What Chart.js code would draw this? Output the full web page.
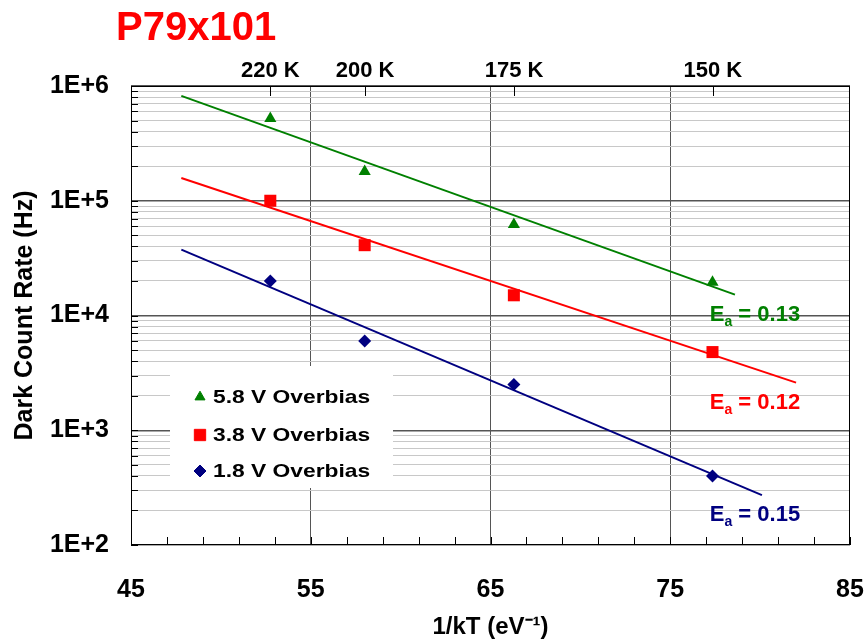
<!DOCTYPE html>
<html>
<head>
<meta charset="utf-8">
<script src="https://cdn.jsdelivr.net/npm/chart.js@4.4.1/dist/chart.umd.min.js"></script>
<style>
  body { margin: 0; background: #fff; }
  #wrap { position: relative; width: 867px; height: 642px; }
  #titulo { position: absolute; left: 116px; top: 4px; margin: 0;
    font: bold 40px "Liberation Sans", Arial, sans-serif; color: #ff0000; }
</style>
</head>
<body>
<div id="wrap">
  <h1 id="titulo">P79x101</h1>
  <canvas id="c" width="867" height="642"></canvas>
</div>
<script>
/* dark count rate vs 1/kT */

const invKT = [52.75, 58.0, 66.3, 77.35];
const dcr58 = [5.2e5, 1.8e5, 6.2e4, 1.95e4];
const dcr38 = [1.0e5, 4.1e4, 1.5e4, 4.8e3];
const dcr18 = [2.0e4, 6.0e3, 2.5e3, 400];

// fitted lines, end points
const fitX58 = [47.8, 78.6], fitY58 = [8.2e5, 1.52e4];
const fitX38 = [47.8, 82.0], fitY38 = [1.58e5, 2.6e3];
const fitX18 = [47.8, 80.1], fitY18 = [3.75e4, 272];

const xTicks = [45, 55, 65, 75, 85];
const tempK = [220, 200, 175, 150];
const kB = 8.617e-5;

const serieNames = ["5.8 V Overbias", "3.8 V Overbias", "1.8 V Overbias"];
const eaText = ["0.13", "0.12", "0.15"];
const eaX = [77.2, 77.2, 77.2];
const eaY = [8.9e3, 1.52e3, 162];

const GREEN = "#008000", RED = "#ff0000", NAVY = "#000080";
const colors = [GREEN, RED, NAVY];
const styles = [["triangle", 7, 5.8], ["rect", 8.5, 8], ["rectRot", 6.5, 6]];

const pts = (xs, ys) => xs.map((x, i) => ({ x, y: ys[i] }));
const isDecade = (v) => {
  const e = Math.round(Math.log10(v));
  return Math.abs(v - Math.pow(10, e)) < 1e-6 * v;
};
const sinPadding = (s) => { s.paddingLeft = 0; s.paddingRight = 0; s.paddingTop = 0; s.paddingBottom = 0; };

Chart.defaults.font.family = '"Liberation Sans", Arial, sans-serif';
Chart.defaults.font.weight = "bold";
Chart.defaults.color = "#000";

const marcoPlugin = {
  id: "marco",
  beforeDatasetsDraw(chart) {
    const { ctx, chartArea: a } = chart;
    // legend box
    const lx = a.left + 39, ly = 366;
    ctx.save();
    ctx.fillStyle = "#fff";
    ctx.fillRect(lx, ly, 223, 122);
    const rows = [397, 435, 471];
    serieNames.forEach((name, i) => {
      ctx.fillStyle = colors[i];
      ctx.strokeStyle = colors[i];
      Chart.helpers.drawPoint(ctx, { pointStyle: styles[i][0], radius: styles[i][2], rotation: 0, borderWidth: 1 }, lx + 30, rows[i]);
      ctx.fillStyle = "#000";
      ctx.font = 'bold 19px "Liberation Sans", Arial, sans-serif';
      ctx.textBaseline = "middle";
      ctx.save();
      ctx.translate(lx + 43, rows[i] + 1);
      ctx.scale(1.2, 1);
      ctx.fillText(name, 0, 0);
      ctx.restore();
    });
    ctx.restore();
  },
  afterDraw(chart) {
    const { ctx, chartArea: a, scales } = chart;
    ctx.save();
    ctx.strokeStyle = "#000";
    ctx.lineWidth = 1;
    ctx.strokeRect(a.left + 0.5, a.top + 0.5, a.right - a.left - 1, a.bottom - a.top - 1);
    ctx.beginPath();
    // inward ticks on the left
    scales.y.ticks.forEach((t) => {
      const y = Math.round(scales.y.getPixelForValue(t.value)) + 0.5;
      ctx.moveTo(a.left, y);
      ctx.lineTo(a.left + 7, y);
    });
    // inward minor ticks on the bottom, every 2
    for (let v = 45; v <= 85; v += 2) {
      const x = Math.round(scales.x.getPixelForValue(v)) + 0.5;
      ctx.moveTo(x, a.bottom);
      ctx.lineTo(x, a.bottom - 8);
    }
    // temperature ticks on the top
    scales.x2.ticks.forEach((t) => {
      const x = Math.round(scales.x2.getPixelForValue(t.value)) + 0.5;
      ctx.moveTo(x, a.top);
      ctx.lineTo(x, a.top + 10);
    });
    ctx.stroke();

    // activation energy labels
    eaText.forEach((txt, i) => {
      const x = scales.x.getPixelForValue(eaX[i]);
      const y = scales.y.getPixelForValue(eaY[i]);
      ctx.fillStyle = colors[i];
      ctx.textBaseline = "alphabetic";
      ctx.font = 'bold 22px "Liberation Sans", Arial, sans-serif';
      ctx.fillText("E", x, y);
      let w = ctx.measureText("E").width;
      ctx.font = 'bold 14px "Liberation Sans", Arial, sans-serif';
      ctx.fillText("a", x + w, y + 5);
      w += ctx.measureText("a").width;
      ctx.font = 'bold 22px "Liberation Sans", Arial, sans-serif';
      ctx.fillText(" = " + txt, x + w, y);
    });
    ctx.restore();
  },
};

const puntos = [dcr58, dcr38, dcr18].map((ys, i) => ({
  label: serieNames[i],
  data: pts(invKT, ys),
  showLine: false,
  pointStyle: styles[i][0],
  pointRadius: styles[i][1],
  backgroundColor: colors[i],
  borderColor: colors[i],
  borderWidth: 0,
}));

const ajustes = [[fitX58, fitY58], [fitX38, fitY38], [fitX18, fitY18]].map(([xs, ys], i) => ({
  label: "fit " + serieNames[i],
  data: pts(xs, ys),
  showLine: true,
  pointRadius: 0,
  borderColor: colors[i],
  borderWidth: 2,
  fill: false,
}));

new Chart(document.getElementById("c"), {
  type: "scatter",
  data: { datasets: [...ajustes, ...puntos] },
  plugins: [marcoPlugin],
  options: {
    responsive: false,
    animation: false,
    layout: { padding: { left: 0, right: 17, top: 0, bottom: 0 } },
    plugins: { legend: { display: false }, tooltip: { enabled: false } },
    scales: {
      x: {
        type: "linear",
        position: "bottom",
        min: 45,
        max: 85,
        afterBuildTicks: (s) => { s.ticks = xTicks.map((v) => ({ value: v })); },
        afterFit: (s) => { s.height = 97; sinPadding(s); },
        grid: {
          drawTicks: false,
          color: (c) => (c.tick && (c.tick.value === 45 || c.tick.value === 85) ? "rgba(0,0,0,0)" : "#555"),
        },
        border: { display: false },
        ticks: { font: { size: 25 }, padding: 30, maxRotation: 0 },
        title: { display: true, text: "1/kT (eV⁻¹)", font: { size: 24 }, padding: { top: 0, bottom: 0 } },
      },
      x2: {
        type: "linear",
        position: "top",
        min: 45,
        max: 85,
        afterBuildTicks: (s) => { s.ticks = tempK.map((T) => ({ value: 1 / (kB * T) })); },
        afterFit: (s) => { s.height = 86; sinPadding(s); },
        grid: { display: false, drawTicks: false },
        border: { display: false },
        ticks: { font: { size: 22 }, padding: 2, maxRotation: 0, callback: (v, i) => tempK[i] + " K" },
      },
      y: {
        type: "logarithmic",
        min: 100,
        max: 1e6,
        afterBuildTicks: (s) => {
          const t = [];
          for (let e = 2; e < 6; e++) for (let m = 1; m < 10; m++) t.push({ value: m * Math.pow(10, e) });
          t.push({ value: 1e6 });
          s.ticks = t;
        },
        afterFit: (s) => { s.width = 131; sinPadding(s); },
        grid: {
          drawTicks: false,
          color: (c) => (c.tick && isDecade(c.tick.value) ? "#555" : "#c8c8c8"),
          lineWidth: (c) => (c.tick && isDecade(c.tick.value) ? 1.5 : 1),
        },
        border: { display: false },
        ticks: {
          font: { size: 25 },
          padding: 22,
          autoSkip: false,
          callback: (v) => (isDecade(v) ? "1E+" + Math.round(Math.log10(v)) : ""),
        },
        title: { display: true, text: "Dark Count Rate (Hz)", font: { size: 25 }, padding: { top: 10, bottom: 0 } },
      },
    },
  },
});
</script>
</body>
</html>
